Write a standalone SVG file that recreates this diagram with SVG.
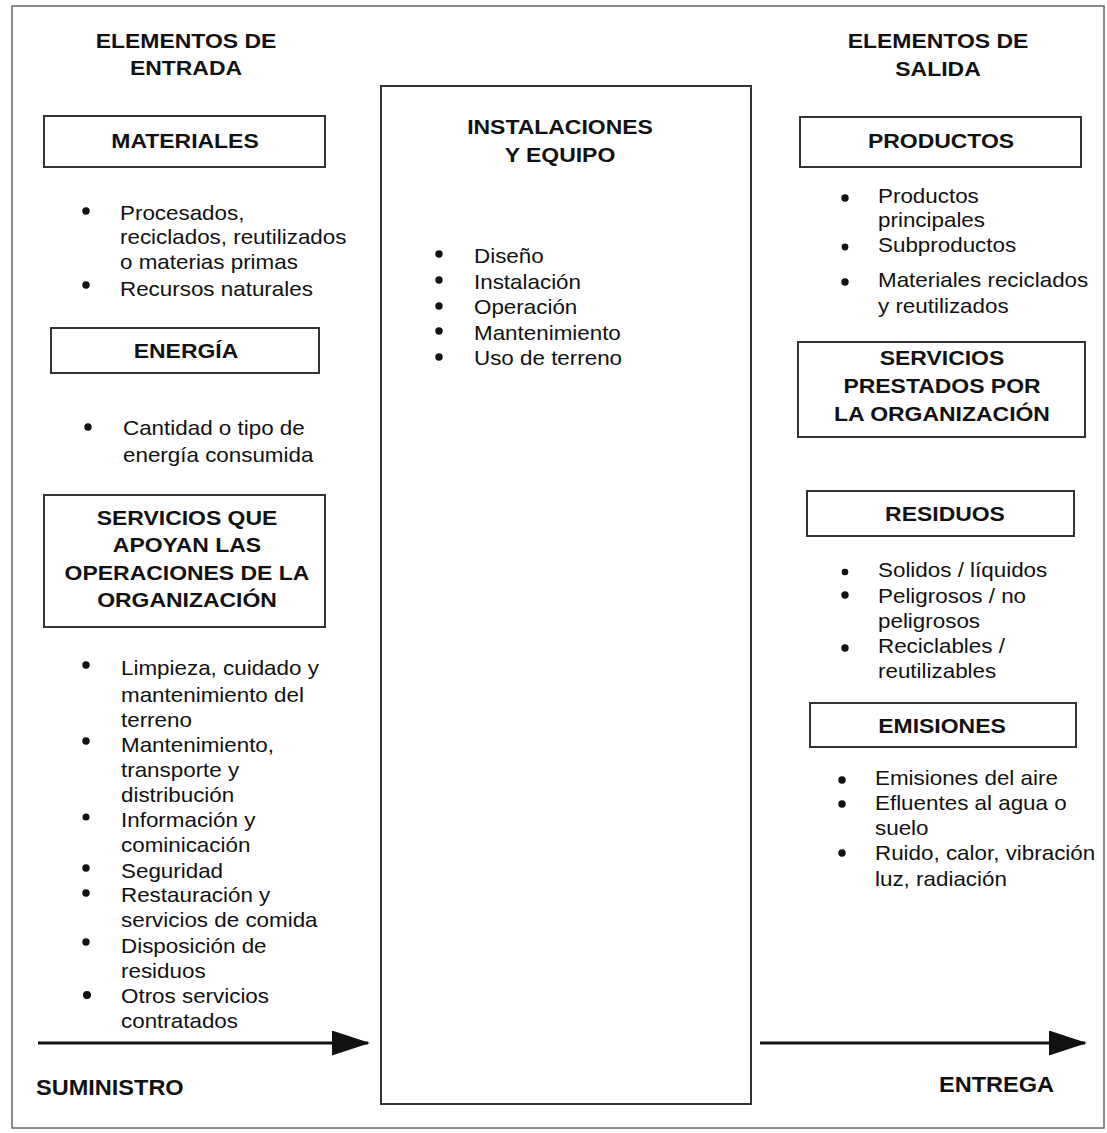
<svg xmlns="http://www.w3.org/2000/svg" width="1107" height="1133" viewBox="0 0 1107 1133">
<style>
  .frame { fill: none; stroke: #666; stroke-width: 1.5; }
  .box { fill: #fff; stroke: #333; stroke-width: 2; }
  .h { font-family: "Liberation Sans", Arial, sans-serif; font-weight: bold; font-size: 20.5px; fill: #111; text-anchor: middle; }
  .b { font-family: "Liberation Sans", Arial, sans-serif; font-weight: bold; font-size: 22px; fill: #111; }
  .t { font-family: "Liberation Sans", Arial, sans-serif; font-size: 20px; fill: #111; }
  .dot { fill: #111; }
  .arrow { stroke: #111; stroke-width: 3; fill: none; }
</style>
<defs>
  <marker id="head" markerUnits="userSpaceOnUse" markerWidth="40" markerHeight="26" refX="36" refY="12.5" orient="auto">
    <path d="M0,0 L38,12.5 L0,25 Z" fill="#111"/>
  </marker>
</defs>
<rect x="0" y="0" width="1107" height="1133" fill="#fff"/>
<rect class="frame" x="12" y="6" width="1092" height="1122"/>

<g id="entrada">
  <text class="h" transform="translate(186 0) scale(1.12 1)"><tspan x="0" y="48">ELEMENTOS DE</tspan><tspan x="0" y="75">ENTRADA</tspan></text>
</g>

<g id="materiales">
  <rect class="box" x="44" y="116" width="281" height="51"/>
  <text class="h" transform="translate(185 0) scale(1.12 1)"><tspan x="0" y="148">MATERIALES</tspan></text>
  <circle class="dot" cx="86" cy="211" r="3.7"/>
  <circle class="dot" cx="86" cy="285" r="3.7"/>
  <text class="t" transform="translate(120 0) scale(1.12 1)"><tspan x="0" y="220">Procesados,</tspan><tspan x="0" y="244">reciclados, reutilizados</tspan><tspan x="0" y="269">o materias primas</tspan><tspan x="0" y="296">Recursos naturales</tspan></text>
</g>

<g id="energia">
  <rect class="box" x="51" y="328" width="268" height="45"/>
  <text class="h" transform="translate(186 0) scale(1.12 1)"><tspan x="0" y="358">ENERGÍA</tspan></text>
  <circle class="dot" cx="88" cy="427" r="3.7"/>
  <text class="t" transform="translate(123 0) scale(1.12 1)"><tspan x="0" y="435">Cantidad o tipo de</tspan><tspan x="0" y="462">energía consumida</tspan></text>
</g>

<g id="servicios-apoyo">
  <rect class="box" x="44" y="495" width="281" height="132"/>
  <text class="h" transform="translate(187 0) scale(1.12 1)"><tspan x="0" y="525">SERVICIOS QUE</tspan><tspan x="0" y="552">APOYAN LAS</tspan><tspan x="0" y="580">OPERACIONES DE LA</tspan><tspan x="0" y="607">ORGANIZACIÓN</tspan></text>
  <circle class="dot" cx="86" cy="665" r="3.7"/>
  <circle class="dot" cx="86" cy="741" r="3.7"/>
  <circle class="dot" cx="86" cy="817" r="3.5"/>
  <circle class="dot" cx="86" cy="868" r="3.7"/>
  <circle class="dot" cx="86" cy="893" r="3.7"/>
  <circle class="dot" cx="86" cy="942" r="3.7"/>
  <circle class="dot" cx="87" cy="995" r="4"/>
  <text class="t" transform="translate(121 0) scale(1.12 1)"><tspan x="0" y="675">Limpieza, cuidado y</tspan><tspan x="0" y="702">mantenimiento del</tspan><tspan x="0" y="727">terreno</tspan><tspan x="0" y="752">Mantenimiento,</tspan><tspan x="0" y="777">transporte y</tspan><tspan x="0" y="802">distribución</tspan><tspan x="0" y="827">Información y</tspan><tspan x="0" y="852">cominicación</tspan><tspan x="0" y="878">Seguridad</tspan><tspan x="0" y="902">Restauración y</tspan><tspan x="0" y="927">servicios de comida</tspan><tspan x="0" y="953">Disposición de</tspan><tspan x="0" y="978">residuos</tspan><tspan x="0" y="1003">Otros servicios</tspan><tspan x="0" y="1028">contratados</tspan></text>
</g>

<g id="instalaciones">
  <rect class="box" x="381" y="86" width="370" height="1018"/>
  <text class="h" transform="translate(560 0) scale(1.12 1)"><tspan x="0" y="134">INSTALACIONES</tspan><tspan x="0" y="162">Y EQUIPO</tspan></text>
  <circle class="dot" cx="439" cy="254" r="3.7"/>
  <circle class="dot" cx="439" cy="280" r="3.7"/>
  <circle class="dot" cx="439" cy="306" r="3.7"/>
  <circle class="dot" cx="439" cy="331" r="3.7"/>
  <circle class="dot" cx="439" cy="357" r="3.7"/>
  <text class="t" transform="translate(474 0) scale(1.12 1)"><tspan x="0" y="263">Diseño</tspan><tspan x="0" y="289">Instalación</tspan><tspan x="0" y="314">Operación</tspan><tspan x="0" y="340">Mantenimiento</tspan><tspan x="0" y="365">Uso de terreno</tspan></text>
</g>

<g id="salida">
  <text class="h" transform="translate(938 0) scale(1.12 1)"><tspan x="0" y="48">ELEMENTOS DE</tspan><tspan x="0" y="76">SALIDA</tspan></text>
</g>

<g id="productos">
  <rect class="box" x="800" y="117" width="281" height="50"/>
  <text class="h" transform="translate(941 0) scale(1.12 1)"><tspan x="0" y="148">PRODUCTOS</tspan></text>
  <circle class="dot" cx="845" cy="198" r="3.7"/>
  <circle class="dot" cx="845" cy="247" r="3.4"/>
  <circle class="dot" cx="845" cy="282" r="3.7"/>
  <text class="t" transform="translate(878 0) scale(1.12 1)"><tspan x="0" y="203">Productos</tspan><tspan x="0" y="227">principales</tspan><tspan x="0" y="252">Subproductos</tspan><tspan x="0" y="287">Materiales reciclados</tspan><tspan x="0" y="313">y reutilizados</tspan></text>
</g>

<g id="servicios-prestados">
  <rect class="box" x="798" y="342" width="287" height="95"/>
  <text class="h" transform="translate(942 0) scale(1.12 1)"><tspan x="0" y="365">SERVICIOS</tspan><tspan x="0" y="393">PRESTADOS POR</tspan><tspan x="0" y="421">LA ORGANIZACIÓN</tspan></text>
</g>

<g id="residuos">
  <rect class="box" x="807" y="491" width="267" height="45"/>
  <text class="h" transform="translate(945 0) scale(1.12 1)"><tspan x="0" y="521">RESIDUOS</tspan></text>
  <circle class="dot" cx="845" cy="572" r="3.3"/>
  <circle class="dot" cx="845" cy="595" r="3.7"/>
  <circle class="dot" cx="845" cy="648" r="3.7"/>
  <text class="t" transform="translate(878 0) scale(1.12 1)"><tspan x="0" y="577">Solidos / líquidos</tspan><tspan x="0" y="603">Peligrosos / no</tspan><tspan x="0" y="628">peligrosos</tspan><tspan x="0" y="653">Reciclables /</tspan><tspan x="0" y="678">reutilizables</tspan></text>
</g>

<g id="emisiones">
  <rect class="box" x="810" y="703" width="266" height="44"/>
  <text class="h" transform="translate(942 0) scale(1.12 1)"><tspan x="0" y="733">EMISIONES</tspan></text>
  <circle class="dot" cx="842" cy="780" r="3.7"/>
  <circle class="dot" cx="842" cy="804" r="3.7"/>
  <circle class="dot" cx="842" cy="853" r="3.7"/>
  <text class="t" transform="translate(875 0) scale(1.12 1)"><tspan x="0" y="785">Emisiones del aire</tspan><tspan x="0" y="810">Efluentes al agua o</tspan><tspan x="0" y="835">suelo</tspan><tspan x="0" y="860">Ruido, calor, vibración</tspan><tspan x="0" y="886">luz, radiación</tspan></text>
</g>

<g id="connectors">
  <line class="arrow" x1="38" y1="1043" x2="368" y2="1043" marker-end="url(#head)"/>
  <line class="arrow" x1="760" y1="1043" x2="1085" y2="1043" marker-end="url(#head)"/>
</g>

<g id="suministro">
  <text class="b" transform="translate(36 1095) scale(1.07 1)">SUMINISTRO</text>
</g>
<g id="entrega">
  <text class="b" transform="translate(939 1092) scale(1.07 1)">ENTREGA</text>
</g>
</svg>
